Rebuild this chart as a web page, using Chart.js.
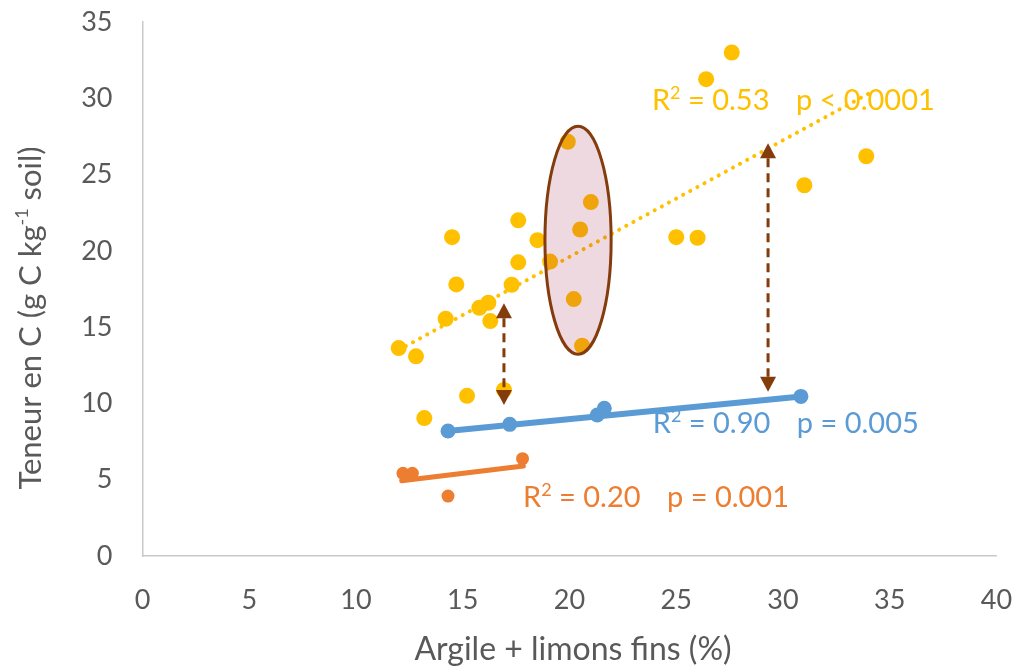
<!DOCTYPE html>
<html>
<head>
<meta charset="utf-8">
<script src="https://cdn.jsdelivr.net/npm/chart.js@4.4.1/dist/chart.umd.min.js"></script>
<style>
  html, body { margin: 0; padding: 0; background: #fff; }
  #wrap { width: 1018px; height: 669px; }
</style>
</head>
<body>
<div id="wrap"><canvas id="chart" width="1018" height="669"></canvas></div>
<script>
// Values (x = argile + limons fins %, y = g C / kg soil)
const yellowX = [19.92, 21.0, 20.5, 17.6, 18.5, 14.5, 17.6, 19.09, 14.7, 17.29, 20.2, 16.2, 15.78, 16.29,
                 14.2, 20.59, 12.0, 12.81, 27.6, 26.4, 33.9, 31.0, 25.0, 26.0, 13.2, 15.2, 16.93];
const yellowY = [27.15, 23.2, 21.4, 22.0, 20.7, 20.9, 19.25, 19.3, 17.8, 17.78, 16.84, 16.6, 16.27, 15.4,
                 15.55, 13.78, 13.63, 13.09, 33.0, 31.25, 26.2, 24.3, 20.9, 20.86, 9.04, 10.5, 10.88];
const blueX = [14.31, 17.2, 21.3, 21.63, 30.84];
const blueY = [8.19, 8.63, 9.24, 9.68, 10.46];
const orangeX = [12.2, 12.64, 17.8, 14.31];
const orangeY = [5.42, 5.42, 6.38, 3.93];

// trendline end points, as drawn
const yellowTrend = [[12.0, 13.5], [34.0, 30.3]];
const blueTrend = [[14.3, 8.2], [30.85, 10.45]];
const orangeTrend = [[12.14, 4.93], [17.84, 5.9]];

const xTicks = [0, 5, 10, 15, 20, 25, 30, 35, 40];
const yTicks = [0, 5, 10, 15, 20, 25, 30, 35];

// annotations: [r2, p, colour, x, y]
const stats = [
  ['0.53', 'p < 0.0001', '#FFC000', 23.86, 29.9],
  ['0.90', 'p = 0.005', '#5B9BD5', 23.9, 8.72],
  ['0.20', 'p = 0.001', '#ED7D31', 17.82, 3.87]
];
// double arrows: x, top, bottom
const arrowsX = [16.93, 29.3];
const arrowsTop = [16.56, 27.05];
const arrowsBottom = [9.9, 10.77];

const FONT = 'Lato, "Open Sans", sans-serif';
const GREY = '#595959';

function zip(xs, ys) {
  return xs.map((v, i) => ({ x: v, y: ys[i] }));
}
function pts(pairs) {
  return pairs.map(p => ({ x: p[0], y: p[1] }));
}

// drop the extra room Chart.js keeps for overhanging tick labels
function noOverhang(scale) {
  scale.paddingTop = 0;
  scale.paddingBottom = 0;
  scale.paddingLeft = 0;
  scale.paddingRight = 0;
}

const overlay = {
  id: 'overlay',
  afterDatasetsDraw(chart) {
    const { ctx } = chart;
    const xs = chart.scales.x, ys = chart.scales.y;

    // highlighted group
    ctx.save();
    const cx = xs.getPixelForValue(20.4), cy = ys.getPixelForValue(20.7);
    const rx = xs.getPixelForValue(20.4 + 1.55) - cx;
    const ry = cy - ys.getPixelForValue(20.7 + 7.47);
    ctx.beginPath();
    ctx.ellipse(cx, cy, rx, ry, 0, 0, Math.PI * 2);
    ctx.fillStyle = 'rgba(160, 30, 80, 0.17)';
    ctx.fill();
    ctx.lineWidth = 3;
    ctx.strokeStyle = '#843C0C';
    ctx.stroke();
    ctx.restore();

    // dashed double arrows
    arrowsX.forEach((ax, i) => {
      const px = xs.getPixelForValue(ax);
      const top = ys.getPixelForValue(arrowsTop[i]);
      const bot = ys.getPixelForValue(arrowsBottom[i]);
      const head = 15, half = 8;
      ctx.save();
      ctx.strokeStyle = '#843C0C';
      ctx.fillStyle = '#843C0C';
      ctx.lineWidth = 3;
      ctx.setLineDash([9, 6]);
      ctx.beginPath();
      ctx.moveTo(px, top + head);
      ctx.lineTo(px, bot - head);
      ctx.stroke();
      ctx.setLineDash([]);
      ctx.beginPath();
      ctx.moveTo(px, top);
      ctx.lineTo(px - half, top + head);
      ctx.lineTo(px + half, top + head);
      ctx.closePath();
      ctx.fill();
      ctx.beginPath();
      ctx.moveTo(px, bot);
      ctx.lineTo(px - half, bot - head);
      ctx.lineTo(px + half, bot - head);
      ctx.closePath();
      ctx.fill();
      ctx.restore();
    });

    // R2 / p labels
    stats.forEach(([r2, p, color, sx, sy]) => {
      const px = xs.getPixelForValue(sx), py = ys.getPixelForValue(sy);
      ctx.save();
      ctx.fillStyle = color;
      ctx.textBaseline = 'alphabetic';
      const base = py + 10;
      ctx.font = '29px ' + FONT;
      ctx.fillText('R', px, base);
      let w = ctx.measureText('R').width;
      ctx.font = '18px ' + FONT;
      ctx.fillText('2', px + w, base - 11);
      w += ctx.measureText('2').width;
      ctx.font = '29px ' + FONT;
      ctx.fillText(' = ' + r2, px + w, base);
      ctx.fillText(p, px + 144, base);
      ctx.restore();
    });
  },
  afterDraw(chart) {
    const { ctx } = chart;
    ctx.save();
    ctx.fillStyle = GREY;
    ctx.font = '32px ' + FONT;
    ctx.textAlign = 'center';
    ctx.textBaseline = 'alphabetic';
    ctx.fillText('Argile + limons fins (%)', 573, 660);

    // rotated y title with superscript
    ctx.translate(41, 318);
    ctx.rotate(-Math.PI / 2);
    ctx.textAlign = 'left';
    const a = 'Teneur en C (g C kg', s = '-1', b = ' soil)';
    ctx.font = '31px ' + FONT;
    const wa = ctx.measureText(a).width, wb = ctx.measureText(b).width;
    ctx.font = '18px ' + FONT;
    const ws = ctx.measureText(s).width;
    let x0 = -(wa + ws + wb) / 2;
    ctx.font = '31px ' + FONT;
    ctx.fillText(a, x0, 0);
    ctx.font = '18px ' + FONT;
    ctx.fillText(s, x0 + wa, -13);
    ctx.font = '31px ' + FONT;
    ctx.fillText(b, x0 + wa + ws, 0);
    ctx.restore();
  }
};

const trendStyle = (color, width, dash) => ({
  type: 'line',
  showLine: true,
  borderColor: color,
  borderWidth: width,
  borderDash: dash,
  borderCapStyle: 'round',
  pointRadius: 0,
  fill: false
});

new Chart(document.getElementById('chart'), {
  type: 'scatter',
  data: {
    datasets: [
      Object.assign({ data: pts(yellowTrend), order: 1 }, trendStyle('#FFC000', 4, [0.1, 8])),
      Object.assign({ data: pts(blueTrend), order: 2 }, trendStyle('#5B9BD5', 6, [])),
      Object.assign({ data: pts(orangeTrend), order: 3 }, trendStyle('#ED7D31', 5, [])),
      { data: zip(yellowX, yellowY), order: 4, pointRadius: 8, backgroundColor: '#FFC000', borderWidth: 0 },
      { data: zip(blueX, blueY), order: 5, pointRadius: 7.5, backgroundColor: '#5B9BD5', borderWidth: 0 },
      { data: zip(orangeX, orangeY), order: 6, pointRadius: 6.5, backgroundColor: '#ED7D31', borderWidth: 0 }
    ]
  },
  options: {
    responsive: false,
    animation: false,
    events: [],
    layout: { padding: { top: 22, right: 21.5, left: 0, bottom: 0 } },
    plugins: { legend: { display: false }, tooltip: { enabled: false } },
    scales: {
      x: {
        type: 'linear',
        min: 0, max: 40,
        afterFit(scale) { scale.height = 113; noOverhang(scale); },
        afterBuildTicks(scale) { scale.ticks = xTicks.map(v => ({ value: v })); },
        grid: { display: false, drawTicks: false },
        border: { display: true, color: '#C9C9C9', width: 1.5 },
        ticks: { color: GREY, font: { family: FONT, size: 27 }, padding: 28 }
      },
      y: {
        type: 'linear',
        min: 0, max: 35,
        afterFit(scale) { scale.width = 142.5; noOverhang(scale); },
        afterBuildTicks(scale) { scale.ticks = yTicks.map(v => ({ value: v })); },
        grid: { display: false, drawTicks: false },
        border: { display: true, color: '#C9C9C9', width: 1.5 },
        ticks: { color: GREY, font: { family: FONT, size: 27 }, padding: 30 }
      }
    }
  },
  plugins: [overlay]
});
</script>
</body>
</html>
